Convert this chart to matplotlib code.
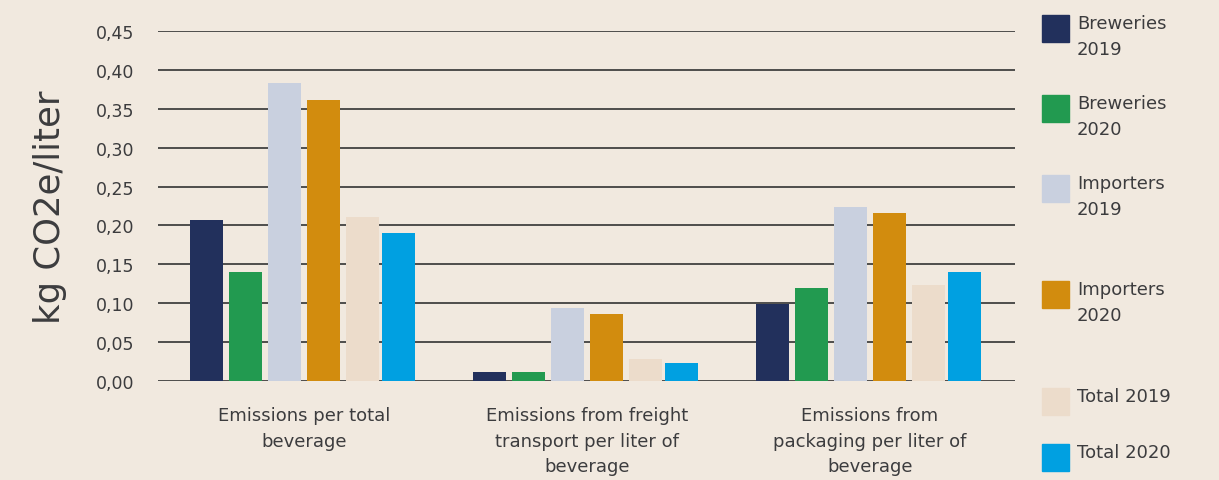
import matplotlib
matplotlib.use("Agg")
import matplotlib.pyplot as plt
from matplotlib.patches import Rectangle
import numpy as np

categories = ["Emissions per total\nbeverage",
              "Emissions from freight\ntransport per liter of\nbeverage",
              "Emissions from\npackaging per liter of\nbeverage"]
series_names = ["Breweries\n2019", "Breweries\n2020", "Importers\n2019",
                "Importers\n2020", "Total 2019", "Total 2020"]
breweries_2019 = [0.207, 0.012, 0.099]
breweries_2020 = [0.140, 0.012, 0.120]
importers_2019 = [0.383, 0.094, 0.224]
importers_2020 = [0.361, 0.086, 0.216]
total_2019 = [0.211, 0.028, 0.123]
total_2020 = [0.190, 0.023, 0.140]
yticks = [0.00, 0.05, 0.10, 0.15, 0.20, 0.25, 0.30, 0.35, 0.40, 0.45]
ytick_labels = ["0,00", "0,05", "0,10", "0,15", "0,20", "0,25", "0,30", "0,35", "0,40", "0,45"]

series = [breweries_2019, breweries_2020, importers_2019, importers_2020, total_2019, total_2020]
colors = ["#22305c", "#229a50", "#c9d0df", "#d28c0e", "#ecdccb", "#00a0e1"]

BG = "#f1e9df"
TXT = "#3c3c3e"
W, H = 1219, 481
fig = plt.figure(figsize=(W / 100, H / 100), dpi=100, facecolor=BG)
ax = fig.add_axes([158 / W, 1 - 382 / H, (1015 - 158) / W, (382 - 32) / H])
ax.set_facecolor(BG)

x = np.arange(len(categories))
pitch = 0.138
width = 0.117
offsets = [-2.5, -1.5, -0.5, 0.5, 1.5, 2.42]
for vals, col, off in zip(series, colors, offsets):
    ax.bar(x + off * pitch, vals, width=width, color=col, zorder=3, linewidth=0)

ax.set_ylim(0, 0.45)
ax.set_xlim(-0.516, 2.513)
ax.set_yticks(yticks)
ax.set_yticklabels(ytick_labels, fontsize=12.5, color=TXT, family="DejaVu Sans")
ax.tick_params(axis="y", length=0, pad=17)
ax.set_xticks([])
for s in ax.spines.values():
    s.set_visible(False)
for yv in yticks:
    ax.axhline(yv, color="#333333", lw=1.2, zorder=1)
ax.set_ylabel("kg CO2e/liter", fontsize=25.5, color=TXT, labelpad=21)

for xi, lab in zip(x, categories):
    ax.text(xi, -0.032, lab, ha="center", va="top", fontsize=13, color=TXT,
            linespacing=1.55, transform=ax.transData, clip_on=False)

# legend drawn manually
leg_y = [16, 96, 176, 282, 389, 445]
for name, col, yy in zip(series_names, colors, leg_y):
    fig.add_artist(Rectangle((1042 / W, 1 - (yy + 27) / H), 27 / W, 27 / H,
                             transform=fig.transFigure, color=col))
    fig.text(1077 / W, 1 - (yy - 1) / H, name, ha="left", va="top", fontsize=13,
             color=TXT, linespacing=1.55)

fig.savefig("out.png", dpi=100, facecolor=BG)
